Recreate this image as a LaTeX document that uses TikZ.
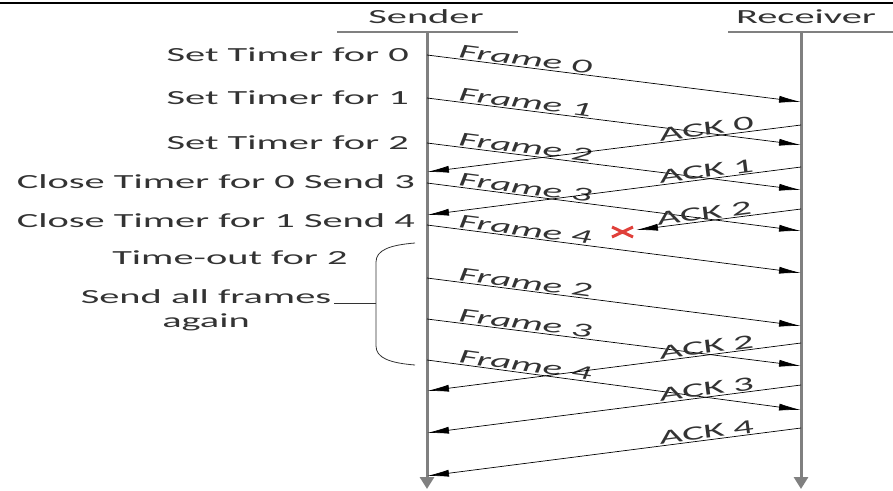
\documentclass[tikz,border=0pt]{standalone}
\usepackage{fontspec}
\setmainfont{Carlito}[FakeStretch=2.02]
\usetikzlibrary{arrows.meta}
\definecolor{txt}{HTML}{333333}
\definecolor{life}{HTML}{808080}
\definecolor{xred}{HTML}{E0403A}
\begin{document}
\begin{tikzpicture}[x=1pt,y=-1pt,
  lbl/.style={font=\fontsize{20}{24}\selectfont, text=txt, inner sep=0pt},
  msg/.style={draw=black, line width=0.7pt, -{Latex[length=22pt,width=7pt]}},
  flab/.style={font=\fontsize{20}{24}\selectfont\itshape, text=txt, sloped, above, inner sep=1pt},
  alab/.style={font=\fontsize{20}{24}\selectfont, text=txt, sloped, above, inner sep=1pt},
  lifeline/.style={draw=life, line width=3pt, -{Triangle[length=12pt,width=14pt]}},
  hdr/.style={draw=life, line width=1.2pt}]
\useasboundingbox (0,0) rectangle (893,490);
% top rule
\coordinate (tl) at (0,3);
\coordinate (tr) at (893,3);
\draw[line width=1.5pt] (tl) -- (tr);
% headers
\node[lbl] (sender) at (426,17) {Sender};
\node[lbl] (receiver) at (806,17) {Receiver};
\coordinate (shl) at (337,32); \coordinate (shr) at (518,32);
\coordinate (rhl) at (728,32); \coordinate (rhr) at (893,32);
\draw[hdr] (shl) -- (shr);
\draw[hdr] (rhl) -- (rhr);
% lifelines
\coordinate (stop) at (427,32); \coordinate (sbot) at (427,489);
\coordinate (rtop) at (801,32); \coordinate (rbot) at (801,489);
\draw[lifeline] (stop) -- (sbot);
\draw[lifeline] (rtop) -- (rbot);
% left labels
\node[lbl, anchor=east] (l0) at (409,55) {Set Timer for 0};
\node[lbl, anchor=east] (l1) at (409,98) {Set Timer for 1};
\node[lbl, anchor=east] (l2) at (409,143) {Set Timer for 2};
\node[lbl, anchor=east] (l3) at (415,182) {Close Timer for 0 Send 3};
\node[lbl, anchor=east] (l4) at (415,221) {Close Timer for 1 Send 4};
\node[lbl] (tout) at (230,258) {Time-out for 2};
\node[lbl, align=center] (sendall) at (206,310) {Send all frames\\again};
\coordinate (lda) at (334,303); \coordinate (ldb) at (376,303);
\draw[txt, line width=0.8pt] (lda) -- (ldb);
\draw[txt, line width=0.8pt] (415,243) .. controls (390,245) and (376,250) .. (376,262) -- (376,346) .. controls (376,358) and (390,363) .. (415,365);
% frames
\foreach \n/\a/\b/\t in {f0/55/102/Frame 0, f1/98/145/Frame 1, f2/143/190/Frame 2, f3/183/231/Frame 3, f4/225/273/Frame 4, g2/278/326/Frame 2, g3/319/366/Frame 3, g4/360/410/Frame 4}{
  \coordinate (\n s) at (427,\a);
  \coordinate (\n r) at (801,\b);
  \draw[msg] (\n s) -- node[flab, pos=0.26] {\t} (\n r);
}
% acks
\foreach \n/\a/\b/\t in {a0/125/172/ACK 0, a1/167/215/ACK 1, b2/343/391/ACK 2, b3/385/433/ACK 3, b4/428/476/ACK 4}{
  \coordinate (\n r) at (801,\a);
  \coordinate (\n s) at (427,\b);
  \draw[msg] (\n r) -- node[alab, pos=0.25] {\t} (\n s);
}
% lost ack
\coordinate (a2r) at (801,209);
\coordinate (a2x) at (636,230);
\draw[msg] (a2r) -- node[alab, pos=0.58] {ACK 2} (a2x);
\coordinate (xa) at (612,227); \coordinate (xb) at (633,237);
\coordinate (xc) at (612,237); \coordinate (xd) at (633,227);
\draw[xred, line width=3pt] (xa) -- (xb) (xc) -- (xd);
\end{tikzpicture}
\end{document}
